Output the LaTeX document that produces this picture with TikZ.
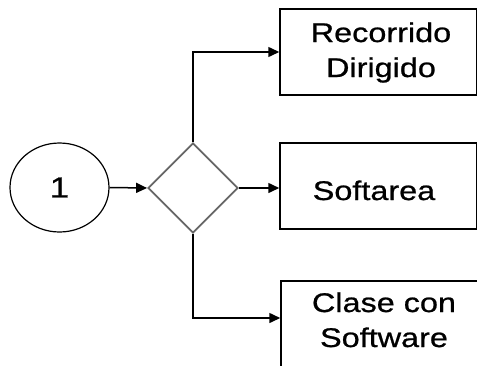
\documentclass[tikz,border=0pt]{standalone}
\usepackage{fontspec}
\setmainfont{Liberation Sans}[FakeStretch=1.2, FakeBold=0.8]
\usetikzlibrary{shapes.geometric,arrows.meta}
\begin{document}
\begin{tikzpicture}[x=1pt,y=-1pt,
  line width=1.5pt,
  lbl/.style={font=\fontsize{27}{35}\selectfont, align=center, inner sep=0pt, anchor=base},
  box/.style={draw=black, rectangle, inner sep=0pt},
  arr/.style={draw=black, -{Triangle[length=11pt,width=10pt]}}]
\useasboundingbox (0,0) rectangle (477,365);
\clip (0,0) rectangle (477,365);

% start event and decision
\node[draw=black, line width=1.2pt, ellipse, minimum width=99pt, minimum height=89pt, inner sep=0pt,
      font=\fontsize{29}{30}\selectfont] (start) at (59.5,187.5) {1};
\node[draw=gray!80!black, line width=1.8pt, diamond, aspect=1, minimum size=90pt, inner sep=0pt] (dec) at (193,188) {};

% option boxes (right edges run off the page)
\node[box, minimum width=197pt, minimum height=86pt] (top) at (378.5,52) {};
\node[box, minimum width=197pt, minimum height=86pt] (mid) at (378.5,186) {};
\node[box, minimum width=197pt, minimum height=100pt] (bot) at (379.5,331) {};
\coordinate (botin) at (bot.west |- 0,318);

% labels (base anchor sits on the last line)
\node[lbl] (ttop) at (381,77) {Recorrido\\Dirigido};
\node[lbl] (tmid) at (374,200) {Softarea};
\node[lbl] (tbot) at (384,347) {Clase con\\Software};

% connectors
\draw[arr] (start.east) -- (dec.west);
\draw[arr] (dec.north) |- (top.west);
\draw[arr] (dec.east) -- (dec.east -| mid.west);
\draw[arr] (dec.south) |- (botin);
\end{tikzpicture}
\end{document}
